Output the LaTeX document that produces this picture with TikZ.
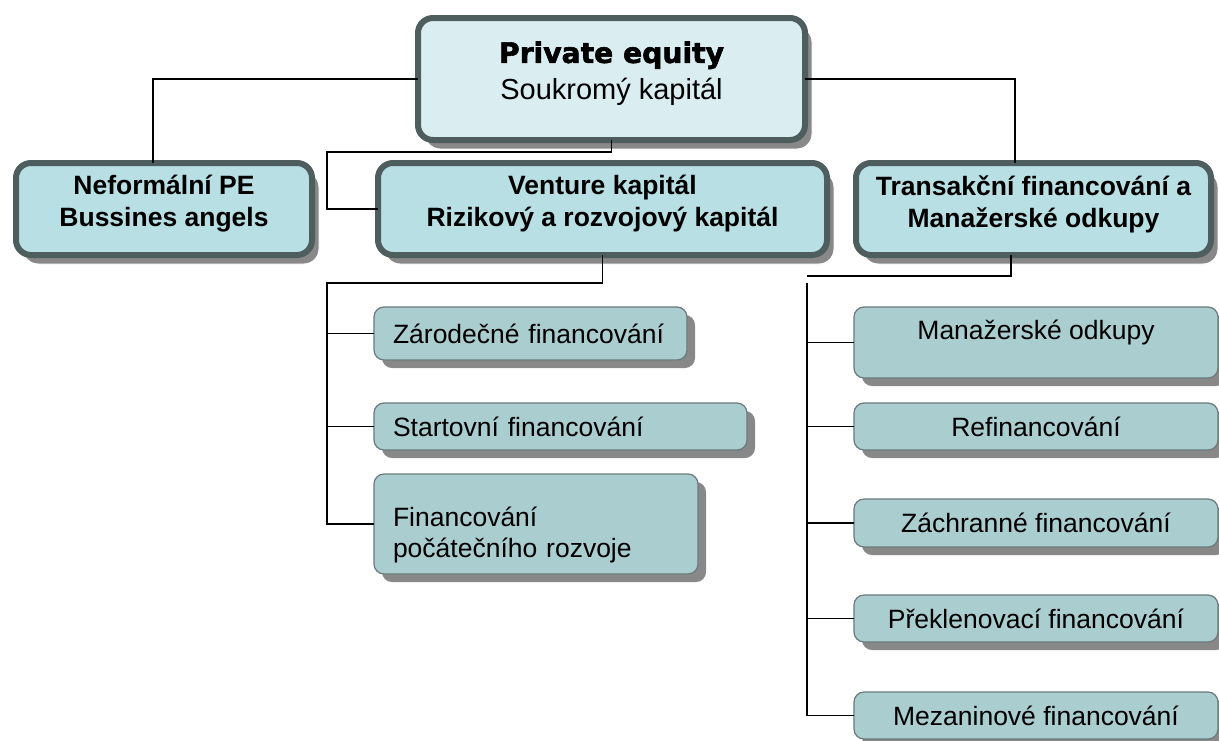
\documentclass[tikz,border=0pt]{standalone}
\usepackage{fontspec}
\setmainfont{Liberation Sans}
\newfontfamily\heavyfont{DejaVu Sans Bold}[FakeBold=2]
\usetikzlibrary{shadows}
\definecolor{topfill}{HTML}{DAEEF1}
\definecolor{bigfill}{HTML}{B8DFE3}
\definecolor{smallfill}{HTML}{AACDCF}
\definecolor{borderdark}{HTML}{4E5D5E}
\definecolor{smallborder}{HTML}{6B7B7C}
\definecolor{shadowgray}{HTML}{888888}
\begin{document}
\begin{tikzpicture}[x=1pt,y=-1pt,
  bigbox/.style={draw=borderdark, line width=6pt, fill=bigfill, rounded corners=15pt,
    inner sep=0pt, outer sep=0pt,
    general shadow={fill=shadowgray, draw=white, line width=1pt, shadow xshift=7pt, shadow yshift=-9pt},
    align=center, font=\fontsize{26.5}{32}\selectfont\bfseries, text depth=15.6pt},
  smallbox/.style={draw=smallborder, line width=1.2pt, fill=smallfill, rounded corners=10pt,
    inner xsep=19pt, inner ysep=0pt, outer sep=0pt,
    general shadow={fill=shadowgray, shadow xshift=8pt, shadow yshift=-8pt},
    font=\fontsize{26.5}{31}\selectfont},
  conn/.style={draw=black, line width=1.5pt}]
\fill[white] (0,0) rectangle (1219,740);
\useasboundingbox (0,0) rectangle (1219,740);

% main nodes
\node[bigbox, fill=topfill, minimum width=387pt, minimum height=122pt, text depth=16.6pt,
  font=\fontsize{29}{35}\selectfont] (top) at (611.5,79)
  {{\heavyfont\fontsize{28.2}{33}\selectfont Private equity}\\[2pt]Soukromý kapitál};
\node[bigbox, minimum width=296pt, minimum height=92pt] (left) at (164,209)
  {Neformální PE\\Bussines angels};
\node[bigbox, minimum width=449pt, minimum height=92pt] (mid) at (602.5,209)
  {Venture kapitál\\Rizikový a rozvojový kapitál};
\node[bigbox, minimum width=355pt, minimum height=92pt] (right) at (1033.5,209)
  {Transakční financování a\\Manažerské odkupy};

% venture children
\node[smallbox, minimum width=313pt, minimum height=53pt, text width=275pt, align=left] (s1) at (530.5,333.5)
  {Zárodečné financování};
\node[smallbox, minimum width=373pt, minimum height=47pt, text width=335pt, align=left] (s2) at (560.5,426.5)
  {Startovní financování};
\node[smallbox, minimum width=324pt, minimum height=100pt, text width=286pt, align=left, text depth=14pt] (s3) at (536,524)
  {Financování\\počátečního rozvoje};

% transaction children
\node[smallbox, minimum width=364pt, minimum height=71pt, align=center, text depth=26pt] (r1) at (1036,342.5)
  {Manažerské odkupy};
\node[smallbox, minimum width=364pt, minimum height=47pt, align=center] (r2) at (1036,426.5)
  {Refinancování};
\node[smallbox, minimum width=364pt, minimum height=48pt, align=center] (r3) at (1036,523)
  {Záchranné financování};
\node[smallbox, minimum width=364pt, minimum height=47pt, align=center] (r4) at (1036,618.5)
  {Překlenovací financování};
\node[smallbox, minimum width=364pt, minimum height=47pt, align=center] (r5) at (1036,715.5)
  {Mezaninové financování};

% connectors
\draw[conn] (top.west) -| ([xshift=-11pt]left.north);
\draw[conn] (top.east) -| ([xshift=-18.5pt]right.north);
\draw[conn] (top.south) |- (327,152) |- (mid.west);

\coordinate (vl) at (327,283);
\draw[conn] (mid.south) |- (vl) |- (s3.west);
\draw[conn] (vl |- s1.west) -- (s1.west);
\draw[conn] (vl |- s2.west) -- (s2.west);

\coordinate (rh) at (807,276);
\coordinate (rv) at (807,283);
\draw[conn] ([xshift=-22.5pt]right.south) |- (rh);
\draw[conn] (rv) |- (r5.west);
\draw[conn] (rv |- r1.west) -- (r1.west);
\draw[conn] (rv |- r2.west) -- (r2.west);
\draw[conn] (rv |- r3.west) -- (r3.west);
\draw[conn] (rv |- r4.west) -- (r4.west);
\end{tikzpicture}
\end{document}
